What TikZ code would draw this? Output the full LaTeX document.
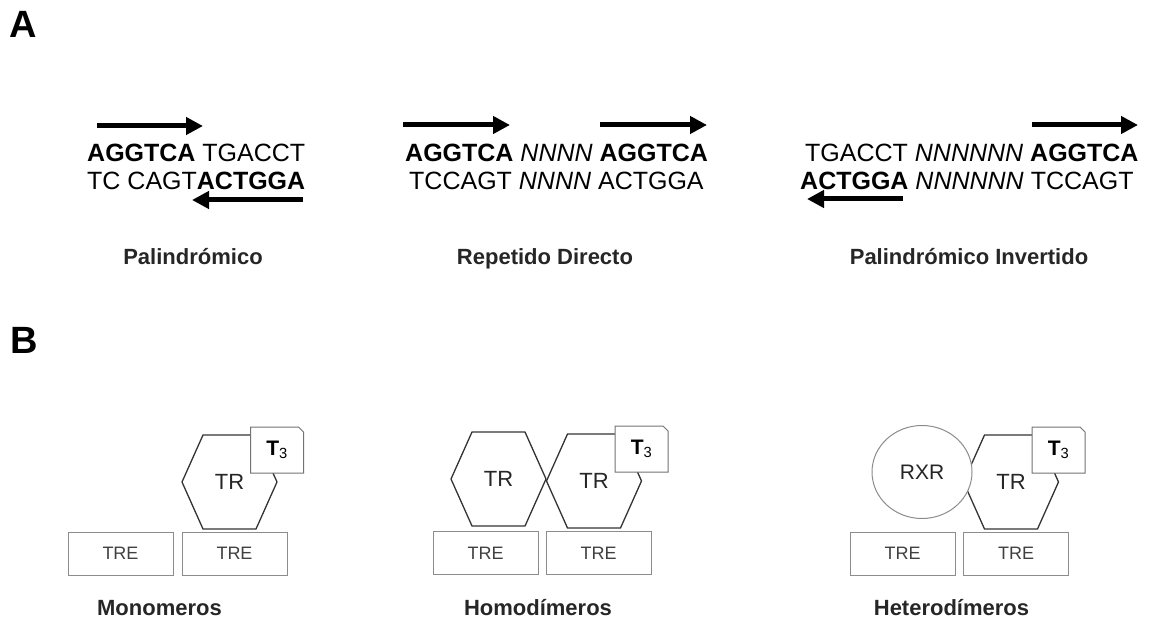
\documentclass[tikz,border=0pt]{standalone}
\usepackage{fontspec}
\setmainfont{Liberation Sans}
\usetikzlibrary{arrows.meta,calc,shapes.geometric}

\begin{document}
\begin{tikzpicture}[x=1pt,y=-1pt,
  panel/.style={anchor=base west, inner sep=0pt, font=\fontsize{38}{44}\selectfont\bfseries},
  seq/.style={anchor=base west, inner sep=0pt, font=\fontsize{25}{30}\selectfont},
  lbl/.style={anchor=base, inner sep=0pt, font=\fontsize{22}{26}\selectfont\bfseries, text=black!85},
  motif/.style={line width=5pt, -{Triangle[length=17pt,width=17pt]}},
  tre/.style={draw=black!45, line width=1pt, minimum width=105pt, minimum height=43pt, inner sep=0pt, font=\fontsize{18}{22}\selectfont, text=black!75},
  hexa/.style={draw=black!80, line width=1.3pt},
  recep/.style={inner sep=0pt, font=\fontsize{22}{26}\selectfont, text=black!85},
  hormone/.style={draw=black!55, fill=white, line width=1pt}]
  \useasboundingbox (0,0) rectangle (1150,620);
  % Panel A
  \node[panel] (A) at (9,38) {A};
  \node[seq] (pal1) at (87,162) {\textbf{AGGTCA} TGACCT};
  \node[seq] (pal2) at (87,190) {TC CAGT\textbf{ACTGGA}};
  \node[seq] (rep1) at (405,162) {\textbf{AGGTCA} \textit{NNNN} \textbf{AGGTCA}};
  \node[seq] (rep2) at (409,190) {TCCAGT \textit{NNNN} ACTGGA};
  \node[seq] (inv1) at (805,162) {TGACCT \textit{NNNNNN} \textbf{AGGTCA}};
  \node[seq] (inv2) at (800,190) {\textbf{ACTGGA} \textit{NNNNNN} TCCAGT};
  \node[lbl] (pal) at (193,265) {Palindrómico};
  \node[lbl] (rep) at (545,265) {Repetido Directo};
  \node[lbl] (inv) at (969,265) {Palindrómico Invertido};
  % Arrows over the half sites
  \coordinate (pal1s) at (97,126);   \coordinate (pal1e) at (203,126);
  \coordinate (pal2s) at (303,200);  \coordinate (pal2e) at (192,200);
  \coordinate (rep1s) at (403,125);  \coordinate (rep1e) at (510,125);
  \coordinate (rep2s) at (600,125);  \coordinate (rep2e) at (707,125);
  \coordinate (inv1s) at (1032,125); \coordinate (inv1e) at (1138,125);
  \coordinate (inv2s) at (903,199);  \coordinate (inv2e) at (807,199);
  \foreach \m in {pal1,pal2,rep1,rep2,inv1,inv2}
    \draw[motif] (\m s) -- (\m e);

  % Panel B
  \node[panel] (B) at (10,353) {B};
  \node[tre] (trem1) at (120.5,553.5) {TRE};
  \node[tre] (trem2) at (234.5,553.5) {TRE};
  \node[tre] (treh1) at (485.5,553) {TRE};
  \node[tre] (treh2) at (598.5,553) {TRE};
  \node[tre] (trex1) at (902.5,553.5) {TRE};
  \node[tre] (trex2) at (1016,553.5) {TRE};
  % Receptors
  \node[recep] (trm) at (229.5,482) {TR};
  \node[recep] (trh1) at (498.5,479) {TR};
  \node[recep] (trh2) at (594,481) {TR};
  \node[recep] (trx) at (1011,482) {TR};
  \foreach \n in {trm,trh1,trh2,trx}
    \draw[hexa, shift={(\n)}] (-26.5,-47) -- (26.5,-47) -- (47.5,0) -- (26.5,47) -- (-26.5,47) -- (-47.5,0) -- cycle;
  \node[draw=black!45, fill=white, line width=1pt, ellipse, minimum width=100pt, minimum height=93pt, inner sep=0pt, font=\fontsize{21}{25}\selectfont, text=black!85] (rxr) at (922,472) {RXR};
  % Hormone
  \coordinate (t3m) at ($(trm)+(47.5,-32)$);
  \coordinate (t3h) at ($(trh2)+(47.5,-32)$);
  \coordinate (t3x) at ($(trx)+(47.5,-32)$);
  \foreach \n in {t3m,t3h,t3x}{
    \draw[hormone, shift={(\n)}] (-26.5,-23) -- (21.5,-23) -- (26.5,-18) -- (26.5,23) -- (-26.5,23) -- cycle;
    \node[recep, font=\fontsize{21}{25}\selectfont, text=black] (\n txt) at (\n) {\textbf{T}\textsubscript{3}};
  }
  \node[lbl] (mono) at (159.5,615) {Monomeros};
  \node[lbl] (homo) at (538,615) {Homodímeros};
  \node[lbl] (hete) at (951.5,615) {Heterodímeros};
\end{tikzpicture}
\end{document}
